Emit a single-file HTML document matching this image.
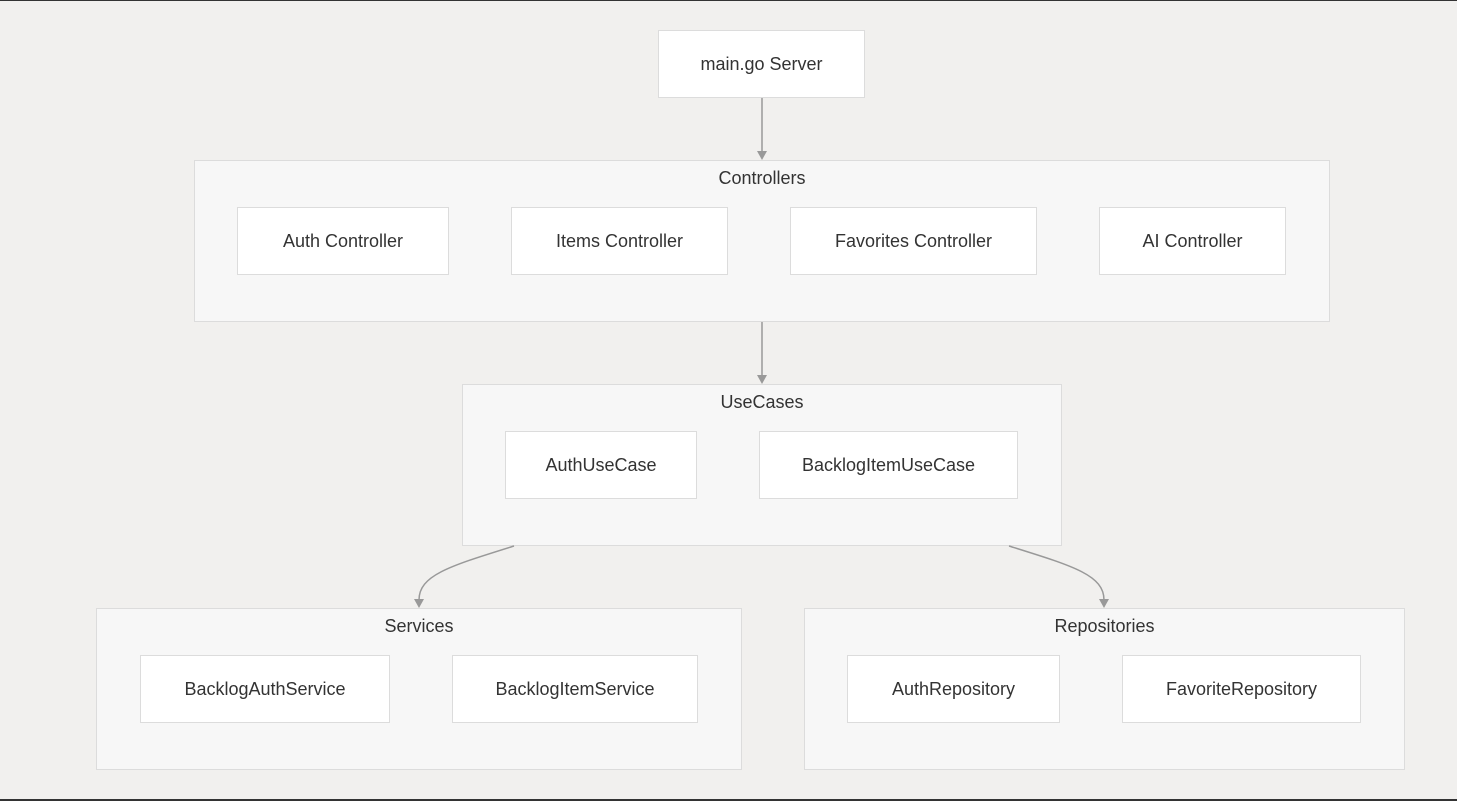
<!DOCTYPE html>
<html><head><meta charset="utf-8"><style>
body{margin:0;width:1457px;height:801px;background:#f1f0ee;position:relative;overflow:hidden;font-family:"Liberation Sans","DejaVu Sans",sans-serif;color:#333;}
.top{position:absolute;left:0;top:0;width:1457px;height:1px;background:#333}
.bot{position:absolute;left:0;top:799px;width:1457px;height:2px;background:#333}
.c{position:absolute;background:#f7f7f7;border:1px solid #dcdcdc;box-sizing:border-box;text-align:center;font-size:18px;padding-top:7px}
.n{position:absolute;background:#fff;border:1px solid #dcdcdc;box-sizing:border-box;display:flex;align-items:center;justify-content:center;font-size:18px}
svg{position:absolute;left:0;top:0}
</style></head><body>
<div class="top"></div><div class="bot"></div>
<div class="n" style="left:658px;top:30px;width:207px;height:68px">main.go Server</div>
<div class="c" style="left:194px;top:160px;width:1136px;height:162px">Controllers</div>
<div class="n" style="left:237px;top:207px;width:212px;height:68px">Auth Controller</div>
<div class="n" style="left:511px;top:207px;width:217px;height:68px">Items Controller</div>
<div class="n" style="left:790px;top:207px;width:247px;height:68px">Favorites Controller</div>
<div class="n" style="left:1099px;top:207px;width:187px;height:68px">AI Controller</div>
<div class="c" style="left:462px;top:384px;width:600px;height:162px">UseCases</div>
<div class="n" style="left:505px;top:431px;width:192px;height:68px">AuthUseCase</div>
<div class="n" style="left:759px;top:431px;width:259px;height:68px">BacklogItemUseCase</div>
<div class="c" style="left:96px;top:608px;width:646px;height:162px">Services</div>
<div class="n" style="left:140px;top:655px;width:250px;height:68px">BacklogAuthService</div>
<div class="n" style="left:452px;top:655px;width:246px;height:68px">BacklogItemService</div>
<div class="c" style="left:804px;top:608px;width:601px;height:162px">Repositories</div>
<div class="n" style="left:847px;top:655px;width:213px;height:68px">AuthRepository</div>
<div class="n" style="left:1122px;top:655px;width:239px;height:68px">FavoriteRepository</div>
<svg width="1457" height="801">
<defs><marker id="a" markerWidth="10" markerHeight="10" refX="5" refY="8" orient="auto-start-reverse" markerUnits="userSpaceOnUse"><path d="M0,0 L10,0 L5,9 z" fill="#999" transform="rotate(0)"/></marker></defs>
<g stroke="#999" stroke-width="1.5" fill="none">
<line x1="762" y1="98" x2="762" y2="152"/>
<line x1="762" y1="322" x2="762" y2="376"/>
<path d="M514,546 C450,566 419,575 419,600"/>
<path d="M1009,546 C1073,566 1104,575 1104,600"/>
</g>
<g fill="#999">
<path d="M757,151 L767,151 L762,160 z"/>
<path d="M757,375 L767,375 L762,384 z"/>
<path d="M414,599 L424,599 L419,608 z"/>
<path d="M1099,599 L1109,599 L1104,608 z"/>
</g>
</svg>
</body></html>
